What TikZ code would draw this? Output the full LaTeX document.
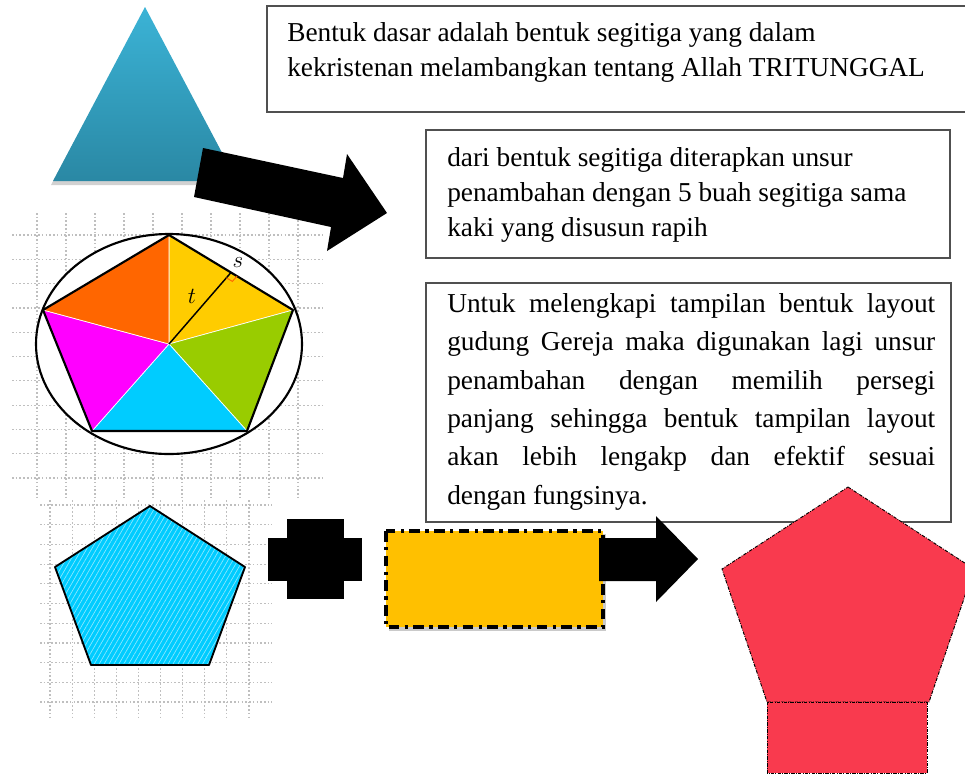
\documentclass[tikz,border=0pt]{standalone}
\usepackage{fontspec}
\setmainfont{Liberation Serif}
\usetikzlibrary{patterns.meta}

\definecolor{trilight}{HTML}{3BB3D6}
\definecolor{tridark}{HTML}{2A88A4}
\definecolor{secorange}{HTML}{FF6600}
\definecolor{secyellow}{HTML}{FFCC00}
\definecolor{secgreen}{HTML}{99CC00}
\definecolor{seccyan}{HTML}{00CCFF}
\definecolor{secmagenta}{HTML}{FF00FF}
\definecolor{rectyellow}{HTML}{FFC000}
\definecolor{gerejared}{HTML}{F93A4E}
\definecolor{boxline}{HTML}{505050}

\tikzset{
    gridline/.style={black!25, line width=0.9pt, dash pattern=on 1.2pt off 1.6pt},
    textbox/.style={draw=boxline, line width=0.9pt},
    boxtext/.style={inner sep=0pt, anchor=north west, font=\fontsize{20.5}{26.25}\selectfont},
    sector/.style={draw=white, line width=0.5pt},
    dashdotthick/.style={line width=2.6pt, dash pattern=on 8pt off 4pt on 2.5pt off 4pt},
    dashdotthin/.style={line width=0.7pt, dash pattern=on 2.5pt off 1pt on 0.6pt off 1pt},
}

\begin{document}
\begin{tikzpicture}[x=0.75pt, y=-0.75pt]
    \useasboundingbox (0,0) rectangle (965,776);
    \clip (0,0) rectangle (965,776);

    % triangle
    \fill[black!30, opacity=0.6] (145,10) -- (239,185) -- (51,185) -- cycle;
    \shade[top color=trilight, bottom color=tridark] (145,7) -- (237,181) -- (53,181) -- cycle;

    % text boxes
    \draw[textbox] (267,6) rectangle (975,112);
    \node[boxtext, align=left] (dasar) at (287,22) {Bentuk dasar adalah bentuk segitiga yang dalam\\kekristenan melambangkan tentang Allah TRITUNGGAL};
    \draw[textbox] (426,130) rectangle (950,258);
    \node[boxtext, align=left] (segitiga) at (447,147) {dari bentuk segitiga diterapkan unsur\\penambahan dengan 5 buah segitiga sama\\kaki yang disusun rapih};
    \draw[textbox] (426,283) rectangle (951,522);
    \node[boxtext, text width=366pt, align=justify, font=\fontsize{20.5}{28.8}\selectfont] (persegi) at (447,293) {Untuk melengkapi tampilan bentuk layout\linebreak gudung Gereja maka digunakan lagi unsur\linebreak penambahan dengan memilih persegi\linebreak panjang sehingga bentuk tampilan layout\linebreak akan lebih lengakp dan efektif sesuai\linebreak dengan fungsinya.};

    % grid behind coloured pentagon
    \foreach \x in {0,...,9}
        \draw[gridline] (37+29*\x,213) -- (37+29*\x,497);
    \foreach \y in {0,...,10}
        \draw[gridline] (12,235+24.3*\y) -- (325,235+24.3*\y);

    % first arrow
    \fill (203,148) -- (343,178) -- (347,154) -- (387,213) -- (327,251) -- (331,227) -- (194,197) -- cycle;

    % coloured pentagon
    \coordinate (pc) at (169,344);
    \coordinate (pt) at (169,235);
    \coordinate (pr) at (293,310);
    \coordinate (pbr) at (247,431);
    \coordinate (pbl) at (92,431);
    \coordinate (pl) at (43,310);
    \fill[white] (169,344) ellipse (133 and 110);
    \foreach \a/\b/\c in {pt/pr/secyellow, pr/pbr/secgreen, pbr/pbl/seccyan, pbl/pl/secmagenta, pl/pt/secorange}
        \filldraw[sector, fill=\c] (pc) -- (\a) -- (\b) -- cycle;
    \draw[line width=1.6pt, line join=round] (pt) -- (pr) -- (pbr) -- (pbl) -- (pl) -- cycle;
    \draw[line width=1.6pt] (169,344) ellipse (133 and 110);
    \coordinate (pf) at (231,272.5);
    \draw[line width=1.1pt] (pc) -- (pf);
    \draw[secorange, line width=0.7pt] (237,276.1) -- (232.4,281.4) -- (226.4,277.8);
    \node[font=\fontsize{17}{17}\selectfont] (tlabel) at (192,296) {$t$};
    \node[font=\fontsize{17}{17}\selectfont] (slabel) at (238,263) {$s$};

    % grid behind blue pentagon
    \foreach \x in {0,...,9}
        \draw[gridline] (50+22.1*\x,500) -- (50+22.1*\x,720);
    \foreach \y in {0,...,10}
        \draw[gridline] (40,505+19.7*\y) -- (272,505+19.7*\y);

    % hatched pentagon
    \fill[seccyan] (150,506) -- (245,567) -- (209,665) -- (91,665) -- (55,567) -- cycle;
    \fill[pattern={Lines[angle=60, distance=3.2pt, line width=0.5pt]}, pattern color=white!55!seccyan] (150,506) -- (245,567) -- (209,665) -- (91,665) -- (55,567) -- cycle;
    \draw[line width=1.4pt, line join=round] (150,506) -- (245,567) -- (209,665) -- (91,665) -- (55,567) -- cycle;

    % plus sign
    \fill (287,519) rectangle (344,599);
    \fill (268,538) rectangle (362,581);

    % yellow rectangle
    \fill[black!35, opacity=0.6] (389,534) rectangle (606,631);
    \fill[rectyellow] (386,531) rectangle (603,627);
    \draw[dashdotthick] (386,531) rectangle (603,627);

    % second arrow
    \fill (599,538) -- (656,538) -- (656,516) -- (698,559) -- (656,602) -- (656,581) -- (599,581) -- cycle;

    % church layout
    \fill[gerejared] (848,487) -- (974,569) -- (929,702) -- (767,702) -- (722,569) -- cycle;
    \draw[dashdotthin] (848,487) -- (974,569) -- (929,702) -- (767,702) -- (722,569) -- cycle;
    \fill[gerejared] (767,702) rectangle (927,773);
    \draw[dashdotthin] (767,702) rectangle (927,773);
\end{tikzpicture}
\end{document}
